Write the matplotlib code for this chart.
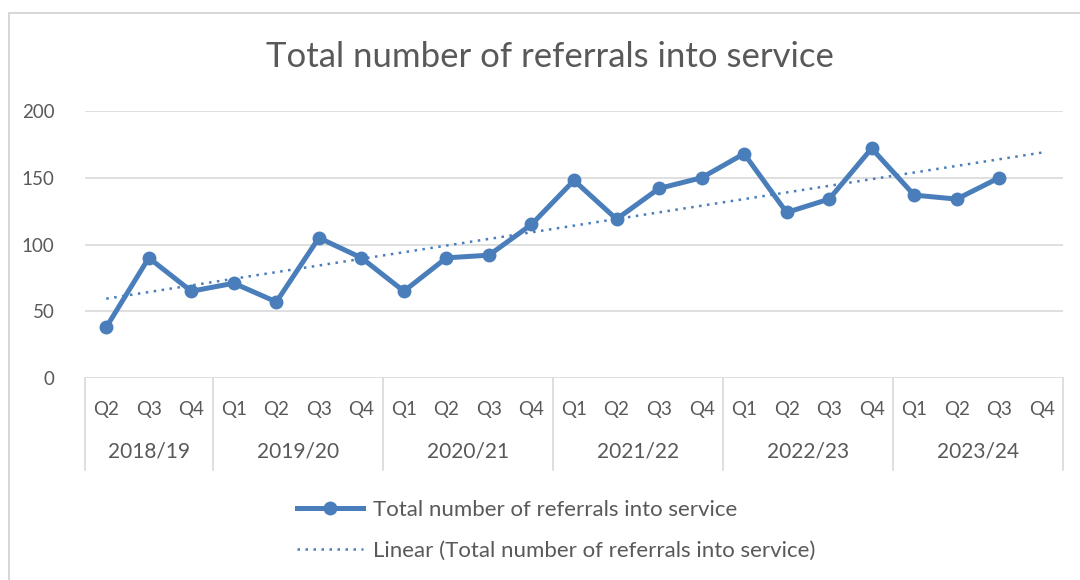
import numpy as np
import matplotlib.pyplot as plt
from matplotlib.lines import Line2D
from matplotlib.patches import Rectangle
import matplotlib.transforms as mtransforms

plt.rcParams['font.family'] = ['Lato', 'DejaVu Sans']

years = ['2018/19', '2019/20', '2020/21', '2021/22', '2022/23', '2023/24']
quarters_per_year = [['Q2', 'Q3', 'Q4'],
                     ['Q1', 'Q2', 'Q3', 'Q4'],
                     ['Q1', 'Q2', 'Q3', 'Q4'],
                     ['Q1', 'Q2', 'Q3', 'Q4'],
                     ['Q1', 'Q2', 'Q3', 'Q4'],
                     ['Q1', 'Q2', 'Q3', 'Q4']]
referrals = [38, 90, 65, 71, 57, 105, 90, 65, 90, 92, 115,
             148, 119, 142, 150, 168, 124, 134, 172, 137, 134, 150]

series_label = 'Total number of referrals into service'
blue = '#4a7ebb'
grey_text = '#595959'
grid_col = '#d9d9d9'

fig = plt.figure(figsize=(10.8, 5.8), dpi=100)
W, H = 1080, 580
ax = fig.add_axes([85 / W, 1 - 378 / H, (1063 - 85) / W, (378 - 111) / H])

# chart border
fig.patches.append(Rectangle((9 / W, -0.1), 1.2, 1 - 13 / H + 0.1, transform=fig.transFigure,
                             fill=False, edgecolor='#d0d0d0', linewidth=1.2))

quarters = [q for qs in quarters_per_year for q in qs]
n = len(quarters)
x = np.arange(n)
xd = np.arange(len(referrals))

ax.plot(xd, referrals, color=blue, linewidth=3.6, marker='o', markersize=9,
        solid_joinstyle='round')

# linear trendline (extends over all categories)
slope, intercept = np.polyfit(xd, referrals, 1)
ax.plot(x, slope * x + intercept, color=blue, linewidth=1.8, linestyle=(0, (1, 2.2)))

ax.set_xlim(-0.5, n - 0.5)
ax.set_ylim(0, 200)
ax.set_yticks([0, 50, 100, 150, 200])
ax.yaxis.grid(True, color=grid_col, linewidth=1.2)
ax.set_axisbelow(True)
ax.tick_params(axis='y', length=0, labelsize=13.5, labelcolor=grey_text, pad=22)
ax.set_xticks([])
for s in ax.spines.values():
    s.set_visible(False)

# category axis with two levels
trans = mtransforms.blended_transform_factory(ax.transData, ax.transAxes)
ax_h = (378 - 111)
for i, q in enumerate(quarters):
    ax.text(i, -(410 - 378) / ax_h, q, transform=trans, ha='center', va='center',
            fontsize=13.5, color=grey_text)
start = 0
bounds = [-0.5]
for y, qs in zip(years, quarters_per_year):
    mid = start + (len(qs) - 1) / 2
    ax.text(mid, -(452 - 378) / ax_h, y, transform=trans, ha='center', va='center',
            fontsize=15, color=grey_text)
    start += len(qs)
    bounds.append(start - 0.5)
for b in bounds:
    ax.plot([b, b], [0, -(470 - 378) / ax_h], transform=trans, color=grid_col,
            linewidth=1.2, clip_on=False)

fig.text(550 / W, 1 - 57 / H, series_label, ha='center', va='center',
         fontsize=25, color=grey_text)

handles = [Line2D([], [], color=blue, linewidth=3.6, marker='o', markersize=9),
           Line2D([], [], color=blue, linewidth=1.8, linestyle=(0, (1, 2.2)))]
labels = [series_label, 'Linear (' + series_label + ')']
fig.legend(handles, labels, loc='upper left', bbox_to_anchor=(286 / W, 1 - 489 / H),
           frameon=False, fontsize=16, labelcolor=grey_text, handlelength=2.95,
           handletextpad=0.45, labelspacing=0.95, borderpad=0)

fig.savefig('out.png', dpi=100)
